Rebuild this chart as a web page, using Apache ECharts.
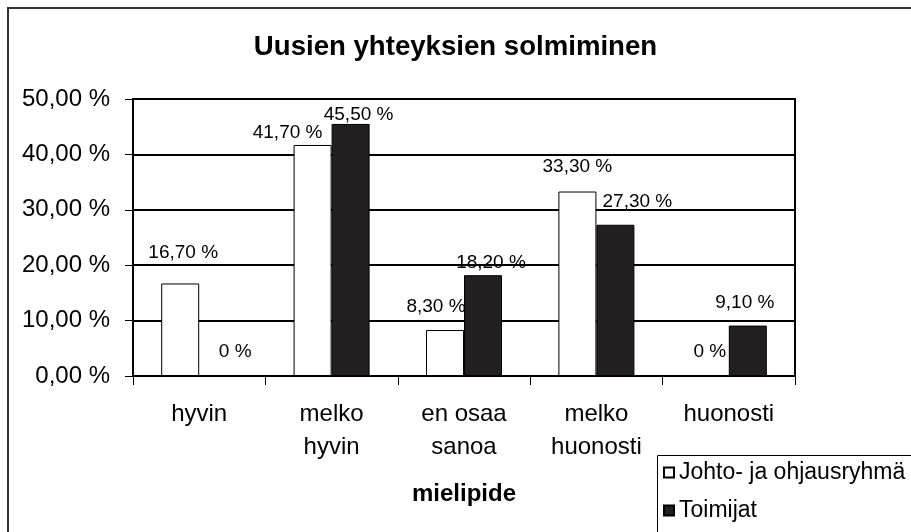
<!DOCTYPE html>
<html>
<head>
<meta charset="utf-8">
<script src="https://cdn.jsdelivr.net/npm/echarts@6/dist/echarts.min.js"></script>
<style>
html,body{margin:0;padding:0;background:#fff;}
#c{width:911px;height:532px;}
</style>
</head>
<body>
<div id="c"></div>
<script>
var titleText = 'Uusien yhteyksien solmiminen';
var categories = ['hyvin', 'melko\nhyvin', 'en osaa\nsanoa', 'melko\nhuonosti', 'huonosti'];
var seriesNames = ['Johto- ja ohjausryhmä', 'Toimijat'];
var johtoValues = [16.7, 41.7, 8.3, 33.3, 0];
var toimijatValues = [0, 45.5, 18.2, 27.3, 9.1];
var yTicks = [0, 10, 20, 30, 40, 50];
var xAxisName = 'mielipide';

// label nudges (styling only)
var johtoOffsets = [[3, -8], [-25, 10], [-9, -1], [0, -2], [0, -1]];
var toimijatOffsets = [[17, -1], [8, 13], [8, 10], [22, 0], [-3, 0]];

var FONT = "'Liberation Sans', Arial, sans-serif";

function pct(v) {
  if (v === 0) return '0 %';
  return v.toFixed(2).replace('.', ',') + ' %';
}
function buildData(vals, offs) {
  return vals.map(function (v, i) {
    return { value: v, label: { offset: offs[i] } };
  });
}

var legendBase = {
  orient: 'vertical',
  left: 663,
  itemWidth: 10,
  itemHeight: 10,
  padding: 0,
  icon: 'rect',
  textStyle: { fontFamily: FONT, fontSize: 23, color: '#000' }
};

var chart = echarts.init(document.getElementById('c'), null, { renderer: 'canvas' });
var option = {
  backgroundColor: '#fff',
  animation: false,
  textStyle: { fontFamily: FONT },
  title: {
    text: titleText,
    left: 'center',
    top: 33,
    padding: [0, 0, 0, 9],
    textStyle: { fontFamily: FONT, fontSize: 27.6, fontWeight: 'bold', color: '#000' }
  },
  graphic: [
    {
      type: 'rect',
      shape: { x: 8, y: 8, width: 930, height: 560 },
      style: { fill: 'none', stroke: '#333', lineWidth: 2 },
      silent: true
    },
    {
      type: 'rect',
      z: -1,
      shape: { x: 657.5, y: 455.5, width: 300, height: 100 },
      style: { fill: '#fff', stroke: '#000', lineWidth: 1 },
      silent: true
    }
  ],
  legend: [
    Object.assign({}, legendBase, { top: 461, data: [seriesNames[0]] }),
    Object.assign({}, legendBase, { top: 499, data: [seriesNames[1]] })
  ],
  grid: {
    left: 133, top: 99, width: 662, height: 277,
    show: true, borderColor: '#000', borderWidth: 2, containLabel: false
  },
  xAxis: {
    type: 'category',
    data: categories,
    name: xAxisName,
    nameLocation: 'middle',
    nameGap: 106,
    nameTextStyle: { fontFamily: FONT, fontSize: 24, fontWeight: 'bold', color: '#000' },
    axisLine: { lineStyle: { color: '#000', width: 2 } },
    axisTick: { show: true, alignWithLabel: false, length: 9, lineStyle: { color: '#000', width: 1 } },
    axisLabel: {
      margin: 22, fontFamily: FONT, fontSize: 24, color: '#000', lineHeight: 33, interval: 0
    },
    splitLine: { show: false }
  },
  yAxis: {
    type: 'value',
    min: yTicks[0],
    max: yTicks[yTicks.length - 1],
    interval: yTicks[1] - yTicks[0],
    axisLine: { show: true, lineStyle: { color: '#000', width: 2 } },
    axisTick: { show: true, length: 8, lineStyle: { color: '#000', width: 1 } },
    axisLabel: {
      margin: 23, fontFamily: FONT, fontSize: 24, color: '#000',
      formatter: function (v) { return v.toFixed(2).replace('.', ',') + ' %'; }
    },
    splitLine: { show: true, lineStyle: { color: '#000', width: 2 } }
  },
  series: [
    {
      name: seriesNames[0],
      type: 'bar',
      data: buildData(johtoValues, johtoOffsets),
      barWidth: 38,
      barGap: '0%',
      itemStyle: { color: '#ffffff', borderColor: '#000', borderWidth: 1 },
      label: {
        show: true, position: 'top', distance: 13,
        fontFamily: FONT, fontSize: 19, color: '#000',
        formatter: function (p) { return pct(p.value); }
      }
    },
    {
      name: seriesNames[1],
      type: 'bar',
      data: buildData(toimijatValues, toimijatOffsets),
      barWidth: 38,
      barGap: '0%',
      itemStyle: { color: '#231f20', borderColor: '#000', borderWidth: 1 },
      label: {
        show: true, position: 'top', distance: 13,
        fontFamily: FONT, fontSize: 19, color: '#000',
        formatter: function (p) { return pct(p.value); }
      }
    }
  ]
};
chart.setOption(option);
</script>
</body>
</html>
